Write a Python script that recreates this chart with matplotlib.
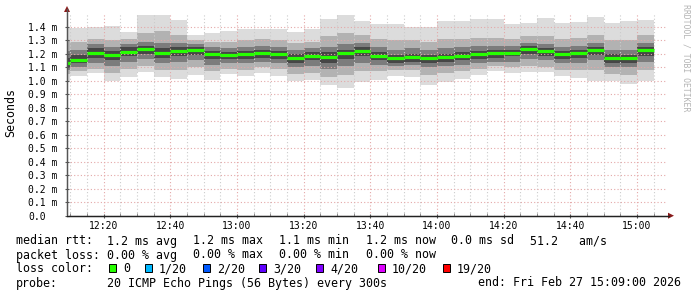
import numpy as np
import matplotlib
matplotlib.use("Agg")
import matplotlib.pyplot as plt
from matplotlib.patches import Rectangle, Polygon
from matplotlib.lines import Line2D

W, H = 697, 297
MONO = "DejaVu Sans Mono"

# time axis in minutes after 12:00 (first step is a partial one, 12:09-12:10)
t_first = 9
t_steps = np.arange(10, 186, 5)
t_end = 189

# median rtt per step (ms)
median = [1.128, 1.156, 1.205, 1.190, 1.215, 1.232, 1.205, 1.217, 1.225, 1.198,
          1.190, 1.198, 1.205, 1.195, 1.170, 1.185, 1.175, 1.202, 1.217, 1.185,
          1.165, 1.178, 1.165, 1.173, 1.180, 1.195, 1.202, 1.207, 1.232, 1.217,
          1.195, 1.207, 1.227, 1.170, 1.168, 1.225]

# smoke: outer ping range (min / max)
ping_max = [1.39, 1.39, 1.395, 1.405, 1.36, 1.484, 1.484, 1.452, 1.34, 1.356,
            1.37, 1.38, 1.38, 1.38, 1.36, 1.385, 1.46, 1.484, 1.444, 1.42,
            1.42, 1.40, 1.40, 1.444, 1.444, 1.46, 1.454, 1.42, 1.43, 1.464,
            1.425, 1.435, 1.47, 1.425, 1.44, 1.45]
ping_min = [1.00, 1.037, 1.054, 1.00, 1.03, 1.067, 1.03, 1.01, 1.042, 1.005,
            1.05, 1.035, 1.054, 1.037, 1.00, 1.007, 0.965, 0.948, 0.99, 1.007,
            1.035, 1.025, 0.968, 0.988, 1.012, 1.042, 1.074, 1.054, 1.062, 1.062,
            1.035, 1.017, 0.995, 0.995, 0.975, 1.00]
# inner ping bands
band2_hi = [1.30, 1.29, 1.31, 1.30, 1.31, 1.35, 1.37, 1.34, 1.30, 1.29,
            1.29, 1.30, 1.31, 1.30, 1.28, 1.29, 1.33, 1.35, 1.34, 1.31,
            1.30, 1.30, 1.29, 1.31, 1.31, 1.32, 1.32, 1.31, 1.33, 1.33,
            1.31, 1.32, 1.34, 1.30, 1.30, 1.34]
band2_lo = [1.05, 1.07, 1.09, 1.06, 1.09, 1.11, 1.08, 1.08, 1.10, 1.07,
            1.09, 1.08, 1.10, 1.09, 1.05, 1.06, 1.03, 1.04, 1.07, 1.07,
            1.08, 1.08, 1.04, 1.06, 1.07, 1.09, 1.11, 1.10, 1.11, 1.10,
            1.08, 1.08, 1.08, 1.05, 1.04, 1.08]
band3_hi = [1.22, 1.23, 1.27, 1.25, 1.27, 1.29, 1.28, 1.28, 1.27, 1.25,
            1.24, 1.25, 1.26, 1.25, 1.23, 1.24, 1.25, 1.27, 1.28, 1.25,
            1.23, 1.24, 1.23, 1.24, 1.25, 1.26, 1.26, 1.26, 1.28, 1.27,
            1.25, 1.26, 1.28, 1.23, 1.23, 1.28]
band3_lo = [1.08, 1.10, 1.13, 1.11, 1.14, 1.16, 1.13, 1.14, 1.15, 1.12,
            1.13, 1.13, 1.14, 1.13, 1.10, 1.11, 1.09, 1.11, 1.13, 1.12,
            1.11, 1.12, 1.10, 1.11, 1.12, 1.13, 1.14, 1.14, 1.16, 1.15,
            1.13, 1.13, 1.15, 1.10, 1.10, 1.14]
band4_hi = [1.17, 1.19, 1.24, 1.22, 1.25, 1.26, 1.24, 1.25, 1.25, 1.22,
            1.21, 1.22, 1.23, 1.22, 1.20, 1.21, 1.21, 1.23, 1.25, 1.21,
            1.19, 1.20, 1.19, 1.20, 1.21, 1.22, 1.23, 1.23, 1.26, 1.24,
            1.22, 1.23, 1.25, 1.20, 1.19, 1.25]
band4_lo = [1.10, 1.13, 1.17, 1.15, 1.18, 1.20, 1.17, 1.18, 1.19, 1.16,
            1.16, 1.16, 1.17, 1.16, 1.13, 1.15, 1.13, 1.16, 1.18, 1.15,
            1.13, 1.14, 1.13, 1.14, 1.15, 1.16, 1.17, 1.18, 1.20, 1.18,
            1.16, 1.17, 1.19, 1.13, 1.13, 1.18]

y_ticks = [0.0, 0.1, 0.2, 0.3, 0.4, 0.5, 0.6, 0.7, 0.8, 0.9, 1.0, 1.1, 1.2, 1.3, 1.4]
x_ticks = [20, 40, 60, 80, 100, 120, 140, 160, 180]
x_labels = ["12:20", "12:40", "13:00", "13:20", "13:40", "14:00", "14:20", "14:40", "15:00"]

loss_labels = ["0", "1/20", "2/20", "3/20", "4/20", "10/20", "19/20"]
loss_colors = ["#26ff00", "#00b8ff", "#0059ff", "#5e00ff", "#7e00ff", "#dd00ff", "#ff0000"]

rtt_items = ["1.2 ms avg", "1.2 ms max", "1.1 ms min", "1.2 ms now", "0.0 ms sd", "51.2   am/s"]
loss_items = ["0.00 % avg", "0.00 % max", "0.00 % min", "0.00 % now"]
probe_text = "20 ICMP Echo Pings (56 Bytes) every 300s"
end_text = "end: Fri Feb 27 15:09:00 2026"


def fx(px):
    return px / W


def fy(py):
    return 1 - py / H


edges = np.concatenate([[t_first], t_steps])

fig = plt.figure(figsize=(W / 100, H / 100), dpi=100)
fig.patch.set_facecolor("white")
ax = fig.add_axes([fx(67), fy(215.7), 600 / W, 202.5 / H])

# smoke layers, outer first
ax.stairs(ping_max, edges, baseline=ping_min, fill=True, color="#dcdcdc", lw=0)
ax.stairs(band2_hi, edges, baseline=band2_lo, fill=True, color="#b2b2b2", lw=0)
ax.stairs(band3_hi, edges, baseline=band3_lo, fill=True, color="#7c7c7c", lw=0)
ax.stairs(band4_hi, edges, baseline=band4_lo, fill=True, color="#464646", lw=0)

# median
ax.hlines(median, edges[:-1], edges[1:], colors=loss_colors[0], lw=2.3, zorder=5)

ax.set_xlim(t_first, t_end)
ax.set_ylim(0, 1.5)

ax.set_yticks(y_ticks)
ax.set_yticklabels(["0.0"] + ["%.1f m" % v for v in y_ticks[1:]], ha="left")
ax.set_xticks(x_ticks)
ax.set_xticklabels(x_labels)
ax.set_xticks(np.arange(10, 190, 5), minor=True)

ax.set_axisbelow(False)
dots = (0, (1, 2))
ax.yaxis.grid(True, color="#e4a8a8", linestyle=dots, lw=0.8)
ax.xaxis.grid(True, which="major", color="#e4a8a8", linestyle=dots, lw=0.8)
ax.xaxis.grid(True, which="minor", color="#cccccc", linestyle=dots, lw=0.8)

ax.tick_params(axis="y", which="major", length=3, width=0.8, direction="inout",
               pad=26.6, labelsize=7, color="#555555")
ax.tick_params(axis="x", which="major", length=3, width=0.8, direction="inout",
               pad=2, labelsize=7, color="#555555")
ax.tick_params(axis="x", which="minor", length=2, width=0.6, direction="in", color="#777777")
for lab in ax.get_xticklabels() + ax.get_yticklabels():
    lab.set_family(MONO)

for s in ["top", "right"]:
    ax.spines[s].set_visible(False)
ax.spines["left"].set_color("#555555")
ax.spines["bottom"].set_color("#222222")

# axis arrows
fig.add_artist(Line2D([fx(67), fx(67)], [fy(214), fy(9)], color="#555555", lw=1.0))
fig.add_artist(Line2D([fx(67), fx(669)], [fy(215.7), fy(215.7)], color="#222222", lw=1.0))
fig.add_artist(Polygon([[fx(64), fy(12)], [fx(70), fy(12)], [fx(67), fy(6)]],
                       closed=True, color="#8b1a1a", lw=0))
fig.add_artist(Polygon([[fx(668), fy(212.7)], [fx(668), fy(218.7)], [fx(674), fy(215.7)]],
                       closed=True, color="#8b1a1a", lw=0))

fig.text(fx(10.5), fy(113), "Seconds", rotation=90, ha="center", va="center",
         family=MONO, fontsize=8.35)
fig.text(fx(686), fy(4), "RRDTOOL / TOBI OETIKER", rotation=270, ha="center", va="top",
         family=MONO, fontsize=5.9, color="#b4b4b4")

# legend block
fs = 8.35
item_x = [107.3, 193.3, 278.7, 365.7, 451, 530]
line_y = [244.5, 258.5, 272.5, 286.5]


def put(x, y, s):
    fig.text(fx(x), fy(y), s, family=MONO, fontsize=fs, va="baseline")


put(16, line_y[0], "median rtt:")
for x, s in zip(item_x, rtt_items):
    put(x, line_y[0], s)
put(16, line_y[1], "packet loss:")
for x, s in zip(item_x, loss_items):
    put(x, line_y[1], s)
put(16, line_y[2], "loss color:")
label_x = [123, 159, 217, 273, 330, 391.7, 456.7]
for lx, lab, col in zip(label_x, loss_labels, loss_colors):
    fig.add_artist(Rectangle((fx(lx - 14), fy(271.5)), 7 / W, 7.2 / H,
                             facecolor=col, edgecolor="black", lw=0.7))
    put(lx, line_y[2], lab)
put(16, line_y[3], "probe:")
put(107.3, line_y[3], probe_text)
put(478.3, line_y[3], end_text)

fig.savefig("out.png", dpi=100)
